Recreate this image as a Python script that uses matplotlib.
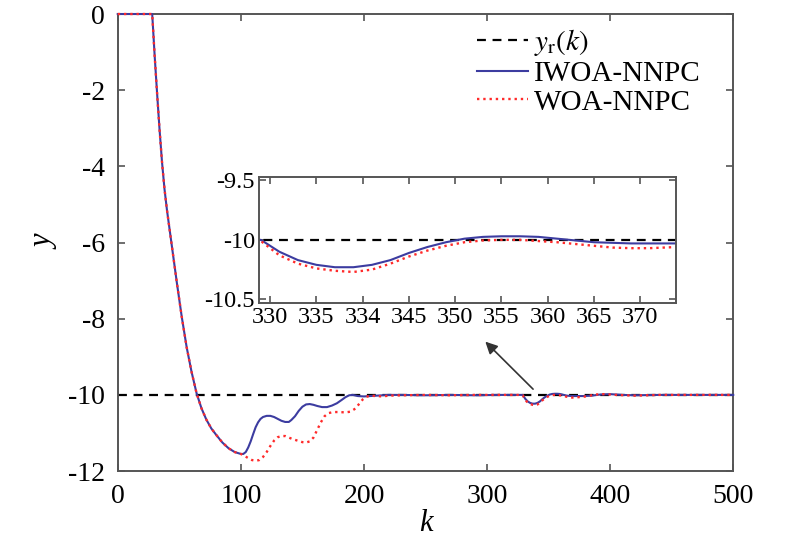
import matplotlib
matplotlib.use("Agg")
import matplotlib.pyplot as plt
import numpy as np

plt.rcParams["font.family"] = ["Liberation Serif", "DejaVu Serif"]
plt.rcParams["mathtext.fontset"] = "stix"
plt.rcParams["axes.unicode_minus"] = False

# shared start-up part (both controllers identical up to k=100)
k_common = [0, 28, 30, 32, 34, 36, 38, 40, 44, 48, 52, 56, 60, 64, 68, 72, 76, 80, 85, 90, 95, 100]
y_common = [0, 0, -1.1, -2.1, -3.05, -3.9, -4.6, -5.15, -6.1, -7.05, -7.95, -8.75, -9.4, -9.95,
            -10.35, -10.65, -10.88, -11.05, -11.25, -11.4, -11.5, -11.55]

k_iwoa_tail = [102, 104, 106, 108, 110, 112, 114, 116, 118, 121, 124, 127, 130, 133, 136, 139, 141,
               144, 147, 150, 153, 156, 159, 162, 166, 170, 174, 178, 182, 185, 188, 191, 195, 200,
               205, 210, 215, 220, 230, 250, 270, 290, 310, 325, 329, 331, 333, 335, 337, 339, 341,
               343, 345, 347, 349, 351, 353, 355, 357, 359, 361, 363, 365, 367, 369, 371, 374, 378,
               385, 392, 400, 410, 420, 440, 460, 480, 500]
y_iwoa_tail = [-11.55, -11.5, -11.38, -11.22, -11.03, -10.85, -10.72, -10.63, -10.58, -10.55, -10.55,
               -10.58, -10.63, -10.68, -10.71, -10.71, -10.66, -10.56, -10.42, -10.31, -10.25, -10.24,
               -10.26, -10.29, -10.32, -10.32, -10.28, -10.22, -10.13, -10.06, -10.01, -10.0, -10.03,
               -10.04, -10.03, -10.02, -10.01, -10.0, -10.0, -10.01, -10.0, -10.01, -10.0, -10.0,
               -10.0, -10.1, -10.17, -10.21, -10.23, -10.23, -10.21, -10.17, -10.11, -10.06, -10.02,
               -9.99, -9.975, -9.97, -9.97, -9.975, -9.99, -10.005, -10.02, -10.025, -10.03, -10.03,
               -10.03, -10.03, -10.02, -9.99, -9.98, -10.0, -10.01, -10.0, -10.0, -10.0, -10.0]

k_woa_tail = [103, 106, 109, 112, 115, 118, 121, 124, 127, 130, 133, 136, 139, 142, 146, 150, 153,
              156, 159, 162, 165, 168, 171, 175, 180, 185, 189, 193, 196, 199, 202, 205, 210, 215,
              220, 230, 250, 270, 290, 310, 325, 329, 331, 333, 335, 337, 339, 341, 343, 345, 347,
              349, 351, 353, 355, 357, 359, 361, 363, 365, 367, 369, 371, 374, 378, 382, 388, 395,
              405, 420, 440, 460, 480, 500]
y_woa_tail = [-11.6, -11.66, -11.71, -11.73, -11.71, -11.63, -11.5, -11.34, -11.2, -11.11, -11.08,
              -11.08, -11.12, -11.16, -11.2, -11.24, -11.25, -11.22, -11.12, -10.92, -10.72, -10.56,
              -10.48, -10.45, -10.45, -10.46, -10.44, -10.36, -10.24, -10.12, -10.05, -10.02, -10.03,
              -10.04, -10.02, -10.01, -10.0, -10.01, -10.0, -10.0, -10.0, -10.01, -10.13, -10.2,
              -10.24, -10.26, -10.27, -10.25, -10.2, -10.14, -10.09, -10.05, -10.02, -10.005, -10.0,
              -10.0, -10.01, -10.02, -10.035, -10.05, -10.065, -10.07, -10.07, -10.06, -10.05, -10.03,
              -9.99, -9.98, -10.0, -10.02, -10.0, -10.0, -10.0, -10.0]

k_ref = [0, 500]
y_ref = [-10, -10]

k_iwoa = k_common + k_iwoa_tail
y_iwoa = y_common + y_iwoa_tail
k_woa = k_common + k_woa_tail
y_woa = y_common + y_woa_tail

x_ticks = [0, 100, 200, 300, 400, 500]
y_ticks = [0, -2, -4, -6, -8, -10, -12]
inset_x_ticks = [330, 335, 340, 345, 350, 355, 360, 365, 370]
inset_x_labels = ["330", "335", "334", "345", "350", "355", "360", "365", "370"]
inset_y_ticks = [-9.5, -10, -10.5]

blue = "#3c3ca0"
red = "#ff2a2a"
spine_col = "#555555"


def style_axes(ax, size, pad):
    for sp in ax.spines.values():
        sp.set_color(spine_col)
        sp.set_linewidth(1.4)
    ax.tick_params(direction="in", top=True, right=True, length=5, width=1.2,
                   color=spine_col, labelsize=size, pad=pad)


fig = plt.figure(figsize=(8.12, 5.39), dpi=100)
fig.patch.set_facecolor("white")
ax = fig.add_axes([0.145, 0.126, 0.758, 0.848])

ax.plot(k_ref, y_ref, "--", color="black", lw=1.6, dashes=(4, 3), label=r"$y_{\rm r}(k)$")
ax.plot(k_iwoa, y_iwoa, "-", color=blue, lw=1.5, label="IWOA-NNPC", zorder=3, clip_on=False)
ax.plot(k_woa, y_woa, ":", color=red, lw=1.7, label="WOA-NNPC", zorder=3, clip_on=False)

ax.set_xlim(0, 500)
ax.set_ylim(-12, 0)
ax.set_xticks(x_ticks)
ax.set_yticks(y_ticks)
ax.set_yticklabels([str(v) for v in y_ticks])
style_axes(ax, 20, 9)
ax.set_xlabel("k", fontsize=22, style="italic", labelpad=0)
ax.set_ylabel("y", fontsize=22, style="italic", labelpad=6)

ax.legend(loc="upper left", bbox_to_anchor=(477 / 812, 1 - 27 / 539),
          bbox_transform=fig.transFigure, frameon=False, fontsize=21,
          handlelength=1.75, handletextpad=0.2, labelspacing=0.08,
          borderaxespad=0, borderpad=0)

ax.annotate("", xy=(297, -8.55), xytext=(339, -9.9),
            arrowprops=dict(arrowstyle="-|>", color="#333333", lw=1.2, mutation_scale=18))

axin = fig.add_axes([0.319, 0.438, 0.514, 0.234])
axin.plot(k_ref, y_ref, "--", color="black", lw=1.6, dashes=(4, 3))
axin.plot(k_iwoa, y_iwoa, "-", color=blue, lw=1.5)
axin.plot(k_woa, y_woa, ":", color=red, lw=1.7)
axin.set_xlim(328.8, 373.9)
axin.set_ylim(-10.53, -9.47)
axin.set_xticks(inset_x_ticks)
axin.set_xticklabels(inset_x_labels)
axin.set_yticks(inset_y_ticks)
axin.set_yticklabels(["-9.5", "-10", "-10.5"])
style_axes(axin, 17.5, 3)

fig.savefig("out.png", dpi=100, facecolor="white")
